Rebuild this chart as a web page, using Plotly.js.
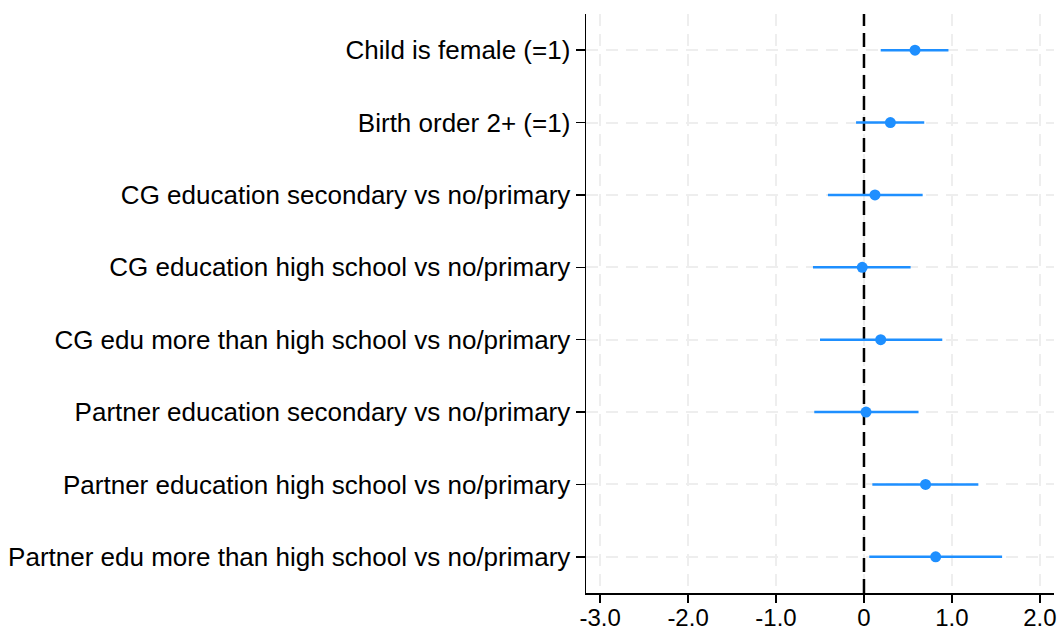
<!DOCTYPE html>
<html>
<head>
<meta charset="utf-8">
<script src="https://cdn.plot.ly/plotly-3.0.1.min.js"></script>
<style>html,body{margin:0;padding:0;background:#fff;}#chart{width:1059px;height:630px;}</style>
</head>
<body>
<div id="chart"></div>
<script>
const categories = [
  "Child is female (=1)",
  "Birth order 2+ (=1)",
  "CG education secondary vs no/primary",
  "CG education high school vs no/primary",
  "CG edu more than high school vs no/primary",
  "Partner education secondary vs no/primary",
  "Partner education high school vs no/primary",
  "Partner edu more than high school vs no/primary"
];
const estimates = [0.58, 0.30, 0.125, -0.02, 0.19, 0.023, 0.70, 0.815];
const ciLower   = [0.19, -0.09, -0.41, -0.58, -0.50, -0.565, 0.095, 0.06];
const ciUpper   = [0.96, 0.685, 0.667, 0.53, 0.89, 0.62, 1.30, 1.57];
const xTickVals = [-3, -2, -1, 0, 1, 2];
const xTickText = ["-3.0", "-2.0", "-1.0", "0", "1.0", "2.0"];
const refValue = 0;

const positions = categories.map((_, i) => i + 1);
const yRange = [positions.length + 0.5, 0.5];
const color = "#1e8fff";

const refTrace = {
  type: "scatter",
  mode: "lines",
  x: [refValue, refValue],
  y: [yRange[0], yRange[1]],
  line: {color: "#000000", width: 2.5, dash: "14px,7px"},
  hoverinfo: "skip",
  showlegend: false
};

const trace = {
  type: "scatter",
  mode: "markers",
  x: estimates,
  y: positions,
  marker: {color: color, size: 11},
  error_x: {
    type: "data",
    symmetric: false,
    array: estimates.map((e, i) => ciUpper[i] - e),
    arrayminus: estimates.map((e, i) => e - ciLower[i]),
    color: color,
    thickness: 2.5,
    width: 0
  },
  hoverinfo: "x+y",
  showlegend: false
};

const layout = {
  width: 1059,
  height: 630,
  margin: {l: 586, r: 5, t: 14, b: 37},
  paper_bgcolor: "#fff",
  plot_bgcolor: "#fff",
  font: {family: "Liberation Sans, Arial, sans-serif", size: 24, color: "#000"},
  xaxis: {
    range: [-3.16, 2.16],
    tickvals: xTickVals,
    ticktext: xTickText,
    ticks: "outside",
    ticklen: 8,
    tickwidth: 1.5,
    tickcolor: "#000",
    showline: true,
    linecolor: "#000",
    linewidth: 1.5,
    showgrid: true,
    gridcolor: "#eeeeee",
    gridwidth: 2,
    griddash: "12px,8px",
    zeroline: false,
    ticklabelstandoff: -5,
    tickfont: {size: 24}
  },
  yaxis: {
    range: yRange,
    tickvals: positions,
    ticktext: categories,
    ticks: "outside",
    ticklen: 9,
    tickwidth: 1.5,
    tickcolor: "#000",
    showline: true,
    linecolor: "#000",
    linewidth: 1.5,
    showgrid: true,
    gridcolor: "#eeeeee",
    gridwidth: 2,
    griddash: "12px,8px",
    zeroline: false,
    tickfont: {size: 26}
  }
};

Plotly.newPlot("chart", [refTrace, trace], layout, {displayModeBar: false, staticPlot: true});
</script>
</body>
</html>
